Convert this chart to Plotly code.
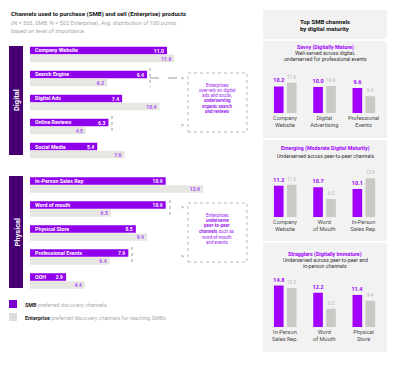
import plotly.graph_objects as go

# ---------------- data ----------------
digital_channels = ["Company Website", "Search Engine", "Digital Ads", "Online Reviews", "Social Media"]
digital_smb = [11.0, 9.4, 7.4, 6.3, 5.4]
digital_ent = [11.6, 6.2, 10.4, 4.5, 7.6]

physical_channels = ["In-Person Sales Rep", "Word of mouth", "Physical Store", "Professional Events", "OOH"]
physical_smb = [10.9, 10.9, 8.5, 7.9, 2.9]
physical_ent = [13.9, 6.5, 9.4, 6.4, 4.4]

savvy_channels = ["Company<br>Website", "Digital<br>Advertising", "Professional<br>Events"]
savvy_smb = [10.2, 10.0, 9.6]
savvy_ent = [11.6, 10.4, 6.4]

emerging_channels = ["Company<br>Website", "Word<br>of Mouth", "In-Person<br>Sales Rep."]
emerging_smb = [11.2, 10.7, 10.1]
emerging_ent = [11.6, 6.5, 13.9]

stragglers_channels = ["In-Person<br>Sales Rep.", "Word<br>of Mouth", "Physical<br>Store"]
stragglers_smb = [14.8, 12.2, 11.4]
stragglers_ent = [13.9, 6.5, 9.4]

# ---------------- styling helpers ----------------
W, H = 400, 373


def px(x):
    return x / W


def py(y):
    return 1 - y / H


FONT = "Roboto, Arial, sans-serif"
PURPLE = "#a100ff"
BAR_SMB = "#9000ec"
DARK = "#460073"
ENT_LIGHT = "#e8e6e1"
ENT_GRAY = "#cac9c5"
PANEL = "#f2f2f2"
TXT_GRAY = "#a8a8a8"

fig = go.Figure()

# ---------------- left horizontal bars ----------------
for chans, smb, ent, xa, ya in [
    (digital_channels, digital_smb, digital_ent, "x", "y"),
    (physical_channels, physical_smb, physical_ent, "x2", "y2"),
]:
    fig.add_trace(go.Bar(
        y=chans, x=smb, orientation="h", marker=dict(color=BAR_SMB, line=dict(width=0)),
        texttemplate="<b>%{x:.1f}</b>", textposition="inside", insidetextanchor="end",
        textfont=dict(color="white", size=5, family=FONT), constraintext="none",
        xaxis=xa, yaxis=ya, hoverinfo="skip", showlegend=False))
    fig.add_trace(go.Bar(
        y=chans, x=ent, orientation="h", marker=dict(color=ENT_LIGHT, line=dict(width=0)),
        texttemplate="<b>%{x:.1f}</b>", textposition="inside", insidetextanchor="end",
        textfont=dict(color="#a64dff", size=5, family=FONT), constraintext="none",
        xaxis=xa, yaxis=ya, hoverinfo="skip", showlegend=False))

# ---------------- right vertical bars ----------------
for chans, smb, ent, xa, ya in [
    (savvy_channels, savvy_smb, savvy_ent, "x3", "y3"),
    (emerging_channels, emerging_smb, emerging_ent, "x4", "y4"),
    (stragglers_channels, stragglers_smb, stragglers_ent, "x5", "y5"),
]:
    fig.add_trace(go.Bar(
        x=chans, y=smb, marker=dict(color=PURPLE, line=dict(width=0)), width=0.245, offset=-0.28,
        texttemplate="<b>%{y:.1f}</b>", textposition="outside", cliponaxis=False,
        textfont=dict(color=PURPLE, size=5.5, family=FONT), constraintext="none",
        xaxis=xa, yaxis=ya, hoverinfo="skip", showlegend=False))
    fig.add_trace(go.Bar(
        x=chans, y=ent, marker=dict(color=ENT_GRAY, line=dict(width=0)), width=0.245, offset=0.05,
        texttemplate="%{y:.1f}", textposition="outside", cliponaxis=False,
        textfont=dict(color="#b3b3b3", size=4.6, family=FONT), constraintext="none",
        xaxis=xa, yaxis=ya, hoverinfo="skip", showlegend=False))

# ---------------- axes ----------------
left_range = [0, 200 / 12.45]
hidden = dict(visible=False, showgrid=False, zeroline=False, fixedrange=True)
layout_axes = dict(
    xaxis=dict(domain=[px(30), px(230)], range=left_range, anchor="y", **hidden),
    yaxis=dict(domain=[py(162.5), py(42.5)], autorange="reversed", type="category", anchor="x", **hidden),
    xaxis2=dict(domain=[px(30), px(230)], range=left_range, anchor="y2", **hidden),
    yaxis2=dict(domain=[py(293), py(173)], autorange="reversed", type="category", anchor="x2", **hidden),
)
right_x = dict(domain=[px(265.3), px(383.2)], type="category", range=[-0.5, 2.5], showgrid=False,
               zeroline=False, showline=False, ticks="", fixedrange=True,
               tickfont=dict(size=5.6, color="#4a4a4a", family=FONT))
for i, (base, scale) in zip([3, 4, 5], [(113, 2.6), (217, 2.78), (327, 2.8)]):
    layout_axes[f"xaxis{i}"] = dict(anchor=f"y{i}", **right_x)
    layout_axes[f"yaxis{i}"] = dict(domain=[py(base), py(base - 15 * scale)], range=[0, 15],
                                     anchor=f"x{i}", **hidden)

# ---------------- shapes ----------------
shapes = []


def rect(x0, y0, x1, y1, fill, line=None, layer="below"):
    d = dict(type="rect", xref="paper", yref="paper", x0=px(x0), x1=px(x1), y0=py(y1), y1=py(y0),
             fillcolor=fill, layer=layer, line=line or dict(width=0))
    shapes.append(d)


def seg(x0, y0, x1, y1, color="#9a9a9a", width=1, dash="dot"):
    shapes.append(dict(type="line", xref="paper", yref="paper", x0=px(x0), x1=px(x1), y0=py(y0), y1=py(y1),
                       line=dict(color=color, width=width, dash=dash)))


rect(263, 10, 387, 352, PANEL)
for yy in [40, 139, 242]:
    seg(263, yy, 387, yy, color="white", width=2, dash="solid")
rect(9, 46, 23, 155, DARK)
rect(9, 176, 23, 288, DARK)
rect(188, 73, 247, 132, "rgba(0,0,0,0)", line=dict(color="#b8b8b8", width=1, dash="dot"))
rect(188, 203, 247, 262, "rgba(0,0,0,0)", line=dict(color="#b8b8b8", width=1, dash="dot"))
seg(150, 68, 150, 87)
seg(150, 78, 180, 78, dash="dash")
seg(112, 116, 112, 133)
seg(170, 200, 170, 215)
seg(132, 247, 132, 265)
rect(9, 300, 17, 308, "#7a00d0", layer="above")
rect(9, 313, 17, 321, "#dcdcdc", layer="above")

# ---------------- annotations ----------------
ann = []


def txt(x, y, text, size=5.5, color="#222", xanchor="center", angle=0, **kw):
    ann.append(dict(x=px(x), y=py(y), xref="paper", yref="paper", text=text, showarrow=False,
                    xanchor=xanchor, yanchor="middle", textangle=angle,
                    font=dict(size=size, color=color, family=FONT), **kw))


txt(9, 14, "<b>Channels used to purchase (SMB) and sell (Enterprise) products</b>", size=6.1,
    color="#111", xanchor="left")
txt(9, 23.5, "(N = 503, SMB; N = 502 Enterprise), Avg. distribution of 100 points", size=5.7,
    color=TXT_GRAY, xanchor="left")
txt(9, 31, "based on level of importance", size=5.7, color=TXT_GRAY, xanchor="left")

txt(16.5, 100.5, "<b>Digital</b>", size=7.5, color="white", angle=-90)
txt(16.5, 232, "<b>Physical</b>", size=7.5, color="white", angle=-90)

for chans, xa, ya in [(digital_channels, "x", "y"), (physical_channels, "x2", "y2")]:
    for c in chans:
        ann.append(dict(x=0, y=c, xref=xa, yref=ya, text=f"<b>{c}</b>", showarrow=False,
                        xanchor="left", yanchor="middle", xshift=3, yshift=4,
                        font=dict(size=5.3, color="white", family=FONT)))

for yy in [78, 125, 207, 256]:
    txt(182, yy, ">", size=5, color="#666")

box1 = ["Enterprises", "over-rely on digital", "ads and social,", "<b>underserving</b>",
        "<b>organic search</b>", "<b>and reviews</b>"]
box2 = ["Enterprises", "<b>underserve</b>", "<b>peer-to-peer</b>", "<b>channels</b> such as",
        "word-of-mouth", "and events"]
for i, t in enumerate(box1):
    txt(217.5, 85 + i * 5.3, t, size=4.5, color="#9a1df0")
for i, t in enumerate(box2):
    txt(217.5, 215 + i * 5.4, t, size=4.5, color="#9a1df0")

txt(325, 21.3, "<b>Top SMB channels</b>", size=6, color="#111")
txt(325, 28.4, "<b>by digital maturity</b>", size=6, color="#111")

txt(325, 48, "<b>Savvy (Digitally Mature)</b>", size=5.3, color=PURPLE)
txt(325, 53.5, "Well-served across digital,", size=5.2, color="#333")
txt(325, 59, "underserved for professional events", size=5.2, color="#333")

txt(325, 148, "<b>Emerging (Moderate Digital Maturity)</b>", size=5.3, color=PURPLE)
txt(325, 156.5, "Underserved across peer-to-peer channels", size=5.2, color="#333")

txt(325, 254, "<b>Stragglers (Digitally Immature)</b>", size=5.3, color=PURPLE)
txt(325, 260, "Underserved across peer-to-peer and", size=5.2, color="#333")
txt(325, 266, "in-person channels", size=5.2, color="#333")

txt(23, 304.5, "<b>SMB</b> <span style='color:#ababab'>preferred discovery channels</span>",
    size=5.4, color="#222", xanchor="left")
txt(23, 317.5, "<b>Enterprise</b> <span style='color:#ababab'>preferred discovery channels for reaching SMBs</span>",
    size=5.4, color="#222", xanchor="left")

fig.update_layout(
    width=W, height=H, margin=dict(l=0, r=0, t=0, b=0),
    paper_bgcolor="white", plot_bgcolor="rgba(0,0,0,0)",
    barmode="group", bargap=0.333, bargroupgap=0.08,
    showlegend=False, shapes=shapes, annotations=ann,
    font=dict(family=FONT), hovermode=False,
    **layout_axes,
)

fig.write_html("out.html", config={"displayModeBar": False, "staticPlot": True},
               post_script="document.body.style.margin='0';")
